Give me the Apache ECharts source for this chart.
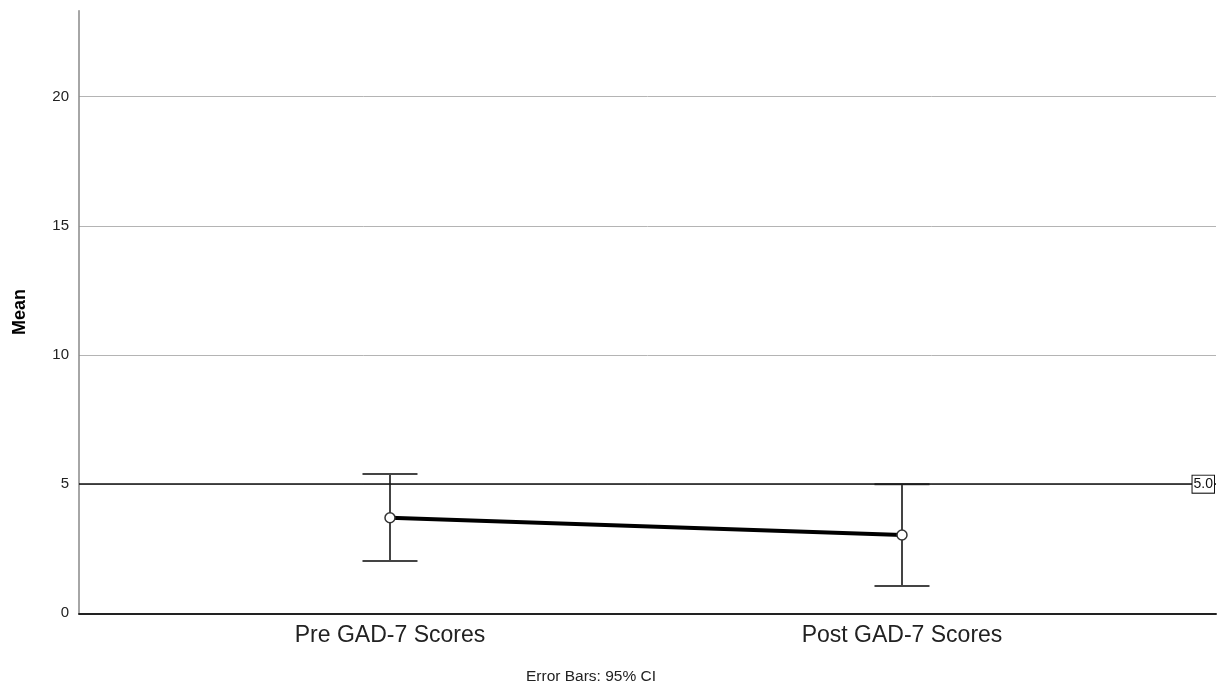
<!DOCTYPE html>
<html>
<head>
<meta charset="utf-8">
<script src="https://cdn.jsdelivr.net/npm/echarts@6/dist/echarts.min.js"></script>
<style>html,body{margin:0;padding:0;background:#fff}#c{width:1219px;height:691px}</style>
</head>
<body>
<div id="c"></div>
<script>
const categories = ['Pre GAD-7 Scores', 'Post GAD-7 Scores'];
const xPositions = [1, 2];
const means = [3.70, 3.03];
const ciLow = [2.02, 1.06];
const ciHigh = [5.39, 5.00];
const yTicks = [0, 5, 10, 15, 20];
const refValue = 5.0;
const footnote = 'Error Bars: 95% CI';

const chart = echarts.init(document.getElementById('c'));
const FONT = 'Liberation Sans, Arial, sans-serif';
const errData = xPositions.map((x, i) => [x, ciLow[i], ciHigh[i]]);
const lineData = xPositions.map((x, i) => [x, means[i]]);

chart.setOption({
  animation: false,
  backgroundColor: '#fff',
  grid: { left: 79, right: 3, top: 10.7, bottom: 77.7, containLabel: false },
  xAxis: {
    type: 'value', min: 0.3926, max: 2.6133,
    axisLine: { show: true, lineStyle: { color: '#222', width: 2 } },
    axisTick: { show: false },
    splitLine: { show: false },
    axisLabel: {
      customValues: xPositions,
      formatter: v => categories[xPositions.indexOf(Math.round(v))] || '',
      fontFamily: FONT, fontSize: 23, color: '#222', margin: 11
    }
  },
  yAxis: {
    type: 'value', min: 0, max: 23.33, interval: 5,
    name: 'Mean', nameLocation: 'middle', nameRotate: 90, nameGap: 50,
    nameTextStyle: { fontFamily: FONT, fontSize: 18, fontWeight: 'bold', color: '#000' },
    axisLine: { show: true, lineStyle: { color: '#888', width: 1.5 } },
    axisTick: { show: false },
    splitLine: { show: true, showMaxLine: false, showMinLine: false, lineStyle: { color: '#b4b4b4', width: 1 } },
    axisLabel: {
      formatter: v => yTicks.includes(v) ? String(v) : '',
      fontFamily: FONT, fontSize: 15, color: '#222', margin: 10
    }
  },
  graphic: [{
    type: 'text', left: 526, top: 669,
    style: { text: footnote, fontFamily: FONT, fontSize: 15.5, fill: '#222' }
  }],
  series: [
    {
      type: 'custom', z: 2,
      data: errData,
      renderItem: function (params, api) {
        const x = api.value(0);
        const lo = api.coord([x, api.value(1)]);
        const hi = api.coord([x, api.value(2)]);
        const hw = 27.5;
        const st = { stroke: '#444', lineWidth: 2 };
        return {
          type: 'group',
          children: [
            { type: 'line', shape: { x1: lo[0], y1: lo[1], x2: hi[0], y2: hi[1] }, style: st },
            { type: 'line', shape: { x1: lo[0] - hw, y1: lo[1], x2: lo[0] + hw, y2: lo[1] }, style: st },
            { type: 'line', shape: { x1: hi[0] - hw, y1: hi[1], x2: hi[0] + hw, y2: hi[1] }, style: st }
          ]
        };
      }
    },
    {
      type: 'line', z: 3,
      data: lineData,
      lineStyle: { color: '#000', width: 4 },
      symbol: 'circle', symbolSize: 10,
      itemStyle: { color: '#fff', borderColor: '#333', borderWidth: 1.5 },
      markLine: {
        silent: true, symbol: 'none',
        lineStyle: { color: '#111', width: 1.5, type: 'solid' },
        label: {
          show: true, position: 'insideEnd', distance: 2,
          formatter: refValue.toFixed(1),
          fontFamily: FONT, fontSize: 14, color: '#111',
          backgroundColor: '#fff', borderColor: '#111', borderWidth: 1, padding: [2, 1, 1, 1]
        },
        data: [{ yAxis: refValue }]
      }
    }
  ]
});
</script>
</body>
</html>
